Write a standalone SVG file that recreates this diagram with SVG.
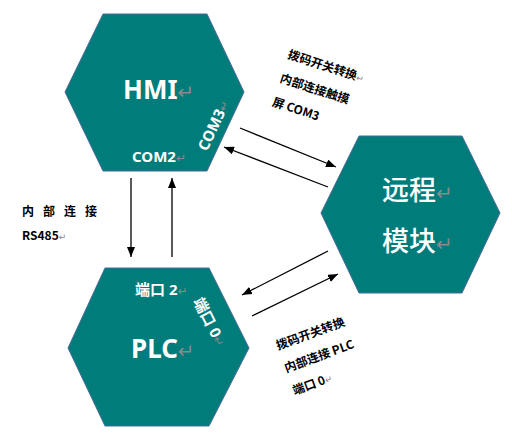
<svg xmlns="http://www.w3.org/2000/svg" width="512" height="440" viewBox="0 0 512 440">
<style>
.hex{fill:#007C7A;stroke:#4A6A9C;stroke-width:1}
.big{font-family:"Noto Sans","Noto Sans CJK SC",sans-serif;fill:#fff;font-weight:bold}
.cjk{font-family:"Noto Sans CJK SC","Noto Sans",sans-serif}
.port{font-family:"Noto Sans","Noto Sans CJK SC",sans-serif;font-weight:bold;fill:#fff;font-size:15px}
.lbl{font-family:"Noto Sans CJK SC","Noto Sans",sans-serif;font-weight:bold;fill:#000;font-size:12px}
.rm{font-family:"DejaVu Sans",sans-serif;fill:#8a8a8a;font-weight:normal}
.conn line{stroke:#000;stroke-width:1.3;marker-end:url(#ah)}
</style>
<defs>
<marker id="ah" markerUnits="userSpaceOnUse" markerWidth="10" markerHeight="8" refX="10" refY="4" orient="auto">
<path d="M0,0 L10,4 L0,8 z" fill="#000"/>
</marker>
</defs>
<g id="hmi">
<polygon class="hex" points="103,14 207,14 244,92 207,171 103,171 65,92"/>
<text class="big" x="123" y="99" font-size="26">HMI<tspan class="rm" font-size="20">↵</tspan></text>
<text class="port" x="132" y="162">COM2<tspan class="rm" font-size="12">↵</tspan></text>
<text class="port" font-size="14" transform="translate(207,152) rotate(-65)">COM3<tspan class="rm" font-size="12">↵</tspan></text>
</g>
<g id="remote">
<polygon class="hex" points="359,136 462,136 500,213 462,293 359,293 321,213"/>
<text class="cjk" fill="#fff" font-weight="500" x="382" y="200" font-size="27">远程<tspan class="rm" font-size="20">↵</tspan></text>
<text class="cjk" fill="#fff" font-weight="500" x="382" y="251" font-size="27">模块<tspan class="rm" font-size="20">↵</tspan></text>
</g>
<g id="plc">
<polygon class="hex" points="105,268 209,268 249,348 209,426 105,426 68,348"/>
<text class="big" x="131" y="358" font-size="26">PLC<tspan class="rm" font-size="20">↵</tspan></text>
<text class="port" x="135" y="295"><tspan class="cjk">端口</tspan> 2<tspan class="rm" font-size="12">↵</tspan></text>
<text class="port" transform="translate(193,301) rotate(63)"><tspan class="cjk">端口</tspan> 0<tspan class="rm" font-size="12">↵</tspan></text>
</g>
<g id="connectors" class="conn">
<line x1="131" y1="178" x2="131" y2="257"/>
<line x1="172" y1="257" x2="172" y2="178"/>
<line x1="240" y1="128" x2="336" y2="167"/>
<line x1="328" y1="187" x2="224" y2="147"/>
<line x1="328" y1="251" x2="242" y2="295"/>
<line x1="252" y1="316" x2="338" y2="274"/>
</g>
<g id="labels">
<g transform="translate(287,58) rotate(18)">
<text class="lbl" x="0" y="0">拨码开关转换<tspan class="rm" font-size="9">↵</tspan></text>
<text class="lbl" x="0" y="25">内部连接触摸</text>
<text class="lbl" x="0" y="50">屏 COM3</text>
</g>
<g transform="translate(278,350) rotate(-20)">
<text class="lbl" x="0" y="0">拨码开关转换</text>
<text class="lbl" x="0" y="24">内部连接 PLC</text>
<text class="lbl" x="0" y="48">端口 0<tspan class="rm" font-size="9">↵</tspan></text>
</g>
<text class="lbl" x="22" y="216" font-size="11" letter-spacing="9">内部连接</text>
<text class="lbl" x="22" y="240" font-size="11" font-family="Noto Sans">RS485<tspan class="rm" font-size="9">↵</tspan></text>
</g>
</svg>
